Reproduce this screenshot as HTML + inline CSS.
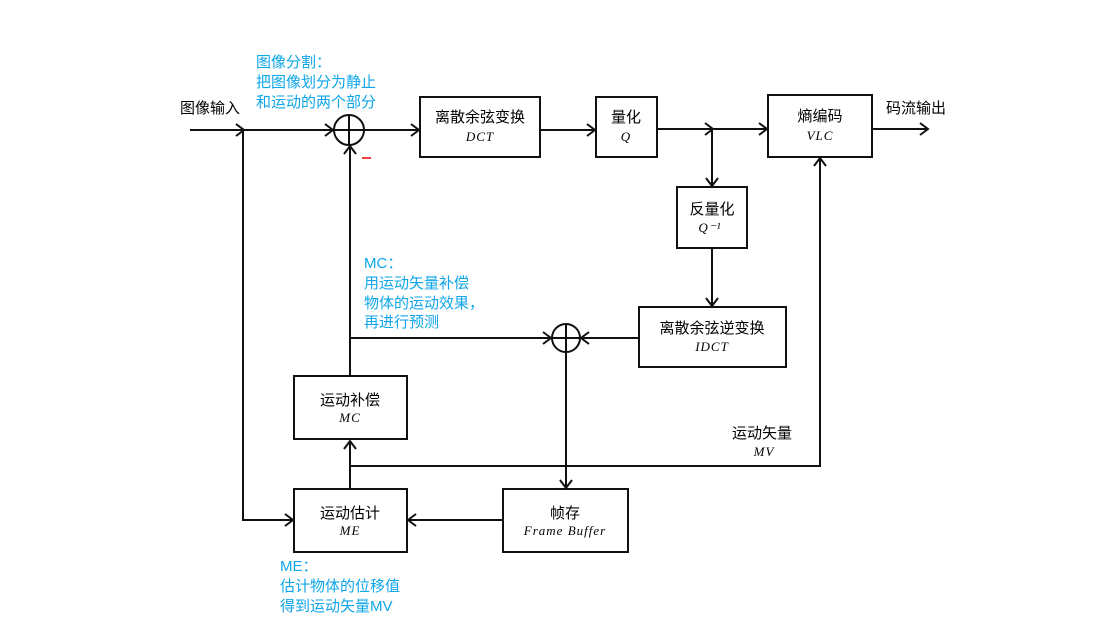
<!DOCTYPE html>
<html><head><meta charset="utf-8"><style>
body{margin:0;background:#fff}
svg{display:block}
text{font-family:"Liberation Sans","Noto Sans CJK SC",sans-serif;font-size:15px}
.c{text-anchor:middle}
.m{font-family:"Liberation Serif",serif;font-style:italic;font-size:13px;letter-spacing:1px}
.b{fill:#0ea5e9}
</style></head><body>
<svg width="1120" height="630" viewBox="0 0 1120 630">
<defs><marker id="a" markerUnits="userSpaceOnUse" markerWidth="12" markerHeight="14" refX="10" refY="7" orient="auto" viewBox="0 0 12 14"><path d="M2,1 L10,7 L2,13" fill="none" stroke="#111" stroke-width="2"/></marker></defs>
<g stroke="#111" stroke-width="2" fill="none">
<rect x="420" y="97" width="120" height="60"/>
<rect x="596" y="97" width="61" height="60"/>
<rect x="768" y="95" width="104" height="62"/>
<rect x="677" y="187" width="70" height="61"/>
<rect x="639" y="307" width="147" height="60"/>
<rect x="294" y="376" width="113" height="63"/>
<rect x="294" y="489" width="113" height="63"/>
<rect x="503" y="489" width="125" height="63"/>
<circle cx="349" cy="130" r="15"/><path d="M334,130H364M349,115V145"/>
<circle cx="566" cy="338" r="14"/><path d="M552,338H580M566,324V352"/>
<path d="M190,130H244" marker-end="url(#a)"/>
<path d="M243,130H333" marker-end="url(#a)"/>
<path d="M243,130V520H293" marker-end="url(#a)"/>
<path d="M364,130H419" marker-end="url(#a)"/>
<path d="M540,130H595" marker-end="url(#a)"/>
<path d="M657,129H713" marker-end="url(#a)"/>
<path d="M712,129H767" marker-end="url(#a)"/>
<path d="M872,129H928" marker-end="url(#a)"/>
<path d="M712,129V186" marker-end="url(#a)"/>
<path d="M712,248V306" marker-end="url(#a)"/>
<path d="M639,338H581" marker-end="url(#a)"/>
<path d="M350,376V146" marker-end="url(#a)"/>
<path d="M350,338H551" marker-end="url(#a)"/>
<path d="M566,352V488" marker-end="url(#a)"/>
<path d="M350,489V441" marker-end="url(#a)"/>
<path d="M350,466H820V158" marker-end="url(#a)"/>
<path d="M503,520H408" marker-end="url(#a)"/>
</g>
<path d="M362,158H371" stroke="#e00" stroke-width="1.5"/>
<text x="180" y="113">图像输入</text>
<text x="886" y="113">码流输出</text>
<text class="b" x="256" y="67">图像分割：</text>
<text class="b" x="256" y="87">把图像划分为静止</text>
<text class="b" x="256" y="107">和运动的两个部分</text>
<text class="c" x="480" y="122">离散余弦变换</text><text class="c m" x="480" y="141">DCT</text>
<text class="c" x="626" y="122">量化</text><text class="c m" x="626" y="141">Q</text>
<text class="c" x="820" y="121">熵编码</text><text class="c m" x="820" y="140">VLC</text>
<text class="c" x="712" y="214">反量化</text><text class="c m" x="710" y="232">Q⁻¹</text>
<text class="c" x="712" y="333">离散余弦逆变换</text><text class="c m" x="712" y="351">IDCT</text>
<text class="c" x="350" y="405">运动补偿</text><text class="c m" x="350" y="422">MC</text>
<text class="c" x="350" y="518">运动估计</text><text class="c m" x="350" y="535">ME</text>
<text class="c" x="565" y="518">帧存</text><text class="c m" x="565" y="535">Frame Buffer</text>
<text x="732" y="438">运动矢量</text><text class="c m" x="764" y="456">MV</text>
<text class="b" x="364" y="268">MC：</text>
<text class="b" x="364" y="288">用运动矢量补偿</text>
<text class="b" x="364" y="308">物体的运动效果，</text>
<text class="b" x="364" y="327">再进行预测</text>
<text class="b" x="280" y="571">ME：</text>
<text class="b" x="280" y="591">估计物体的位移值</text>
<text class="b" x="280" y="611">得到运动矢量MV</text>
</svg>
</body></html>
